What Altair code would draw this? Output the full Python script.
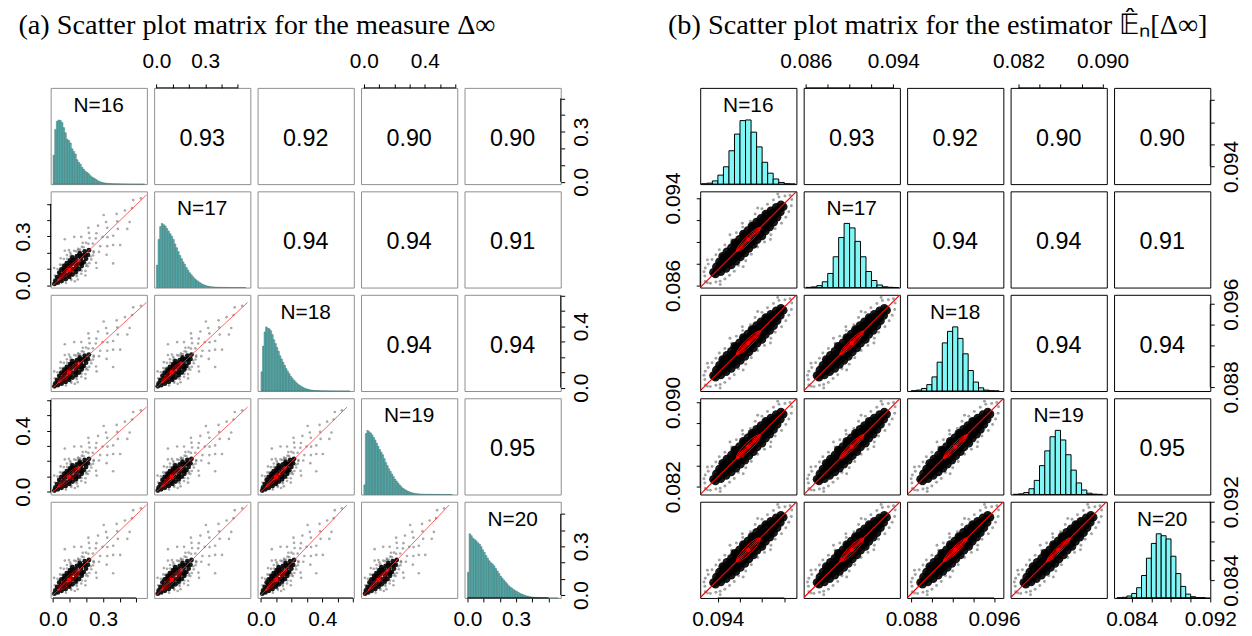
import math
import altair as alt
import pandas as pd

# ---------------- data ----------------
n_labels = ["N=16", "N=17", "N=18", "N=19", "N=20"]
corr_text = [["", "0.93", "0.92", "0.90", "0.90"],
             ["", "", "0.94", "0.94", "0.91"],
             ["", "", "", "0.94", "0.94"],
             ["", "", "", "", "0.95"],
             ["", "", "", "", ""]]

# ---- matrix (a): measure Delta_inf ----
a_lo = [-0.014, -0.014, -0.022, -0.018, -0.018]
a_hi = [0.563, 0.577, 0.605, 0.613, 0.575]
a_ticks = [[0.0, 0.1, 0.2, 0.3, 0.4, 0.5],
           [0.0, 0.1, 0.2, 0.3, 0.4, 0.5],
           [0.0, 0.1, 0.2, 0.3, 0.4, 0.5, 0.6],
           [0.0, 0.1, 0.2, 0.3, 0.4, 0.5, 0.6],
           [0.0, 0.1, 0.2, 0.3, 0.4, 0.5]]
a_labels = [[0.0, 0.3], [0.0, 0.3], [0.0, 0.4], [0.0, 0.4], [0.0, 0.3]]
a_mean = [0.097, 0.095, 0.100, 0.098, 0.094]
a_sd = [0.066, 0.064, 0.068, 0.067, 0.065]
a_hist_start = [0.0, 0.0, 0.0, 0.0, 0.0]
a_hist_width = 0.01
a_h16 = [45, 85, 98, 100, 99, 96, 88, 80, 70, 68, 64, 55, 51, 47, 38, 34, 31, 26, 23, 20, 18, 16, 13, 11,
         9.5, 8, 6, 4.5, 3.5, 2.5, 2, 1.5, 1.2, 1, 0.8, 0.7, 0.6, 0.5, 0.5, 0.4, 0.4, 0.3, 0.3, 0.3, 0.2,
         0.2, 0.2, 0.2, 0.1, 0.1, 0.1, 0.1, 0.1, 0.1, 0.1]
a_h17 = [35, 75, 95, 100, 98, 96, 92, 88, 84, 80, 75, 68, 62, 56, 50, 45, 40, 36, 31, 27, 23, 20, 17, 14,
         12, 10, 8, 6.5, 5, 4, 3, 2.4, 1.8, 1.4, 1.1, 0.9, 0.7, 0.6, 0.5, 0.4, 0.35, 0.3, 0.3, 0.25, 0.2,
         0.2, 0.15, 0.15, 0.1, 0.1, 0.1, 0.1, 0.1, 0.1, 0.1]
a_h18 = [30, 70, 92, 100, 98, 97, 94, 88, 80, 74, 68, 62, 55, 50, 45, 40, 35, 31, 27, 23, 20, 17, 14.5,
         12, 10, 8.5, 7, 5.5, 4.5, 3.5, 2.8, 2.2, 1.7, 1.3, 1, 0.8, 0.7, 0.6, 0.5, 0.4, 0.35, 0.3, 0.3,
         0.25, 0.2, 0.2, 0.15, 0.15, 0.1, 0.1, 0.1, 0.1, 0.1, 0.1, 0.1, 0.1, 0.1, 0.1]
a_h19 = [15, 95, 100, 98, 96, 93, 89, 85, 80, 75, 70, 66, 62, 56, 50, 45, 40, 36, 32, 28, 24, 21, 18,
         15, 12.5, 10, 8.5, 7, 5.5, 4.5, 3.5, 2.8, 2.2, 1.7, 1.3, 1, 0.8, 0.7, 0.6, 0.5, 0.4, 0.35, 0.3,
         0.3, 0.25, 0.2, 0.2, 0.15, 0.15, 0.1, 0.1, 0.1, 0.1, 0.1, 0.1, 0.1, 0.1, 0.1]
a_h20 = [40, 100, 97, 93, 91, 89, 86, 84, 80, 75, 71, 66, 62, 58, 55, 53, 50, 46, 42, 38, 34, 31, 28, 25,
         22, 19, 17, 15, 13, 11.5, 10, 8.5, 7, 6, 5, 4, 3.2, 2.5, 2, 1.5, 1.2, 1, 0.8, 0.6, 0.5, 0.4,
         0.3, 0.25, 0.2, 0.15, 0.1, 0.1, 0.1, 0.1, 0.1, 0.1]
# scatter cloud of (a), diagonal coordinate a / cross coordinate b, data units
a_core_a = [0.012, 0.032, 0.030, 0.055, 0.057, 0.053, 0.080, 0.082, 0.078, 0.081, 0.105, 0.103, 0.107,
            0.104, 0.130, 0.132, 0.128, 0.131, 0.155, 0.153, 0.157, 0.154, 0.180, 0.182, 0.178, 0.181,
            0.205, 0.203, 0.207, 0.204, 0.230, 0.232, 0.228, 0.255, 0.257, 0.253, 0.280, 0.282, 0.305,
            0.068, 0.092, 0.118, 0.142, 0.167, 0.192, 0.217, 0.243, 0.268, 0.117, 0.143, 0.168, 0.193]
a_core_b = [0.0, -0.009, 0.010, -0.018, 0.0, 0.018, -0.027, -0.009, 0.010, 0.028, -0.032, -0.011, 0.011,
            0.033, -0.036, -0.013, 0.010, 0.034, -0.038, -0.014, 0.012, 0.037, -0.040, -0.016, 0.010,
            0.036, -0.038, -0.013, 0.014, 0.039, -0.030, -0.004, 0.025, -0.025, 0.002, 0.026, -0.016,
            0.013, 0.0,
            -0.004, 0.002, -0.022, 0.024, -0.026, 0.026, -0.027, 0.014, -0.004, 0.023, -0.002, 0.024, 0.0]
a_fr_a = [0.05, 0.065, 0.09, 0.10, 0.12, 0.14, 0.16, 0.17, 0.19, 0.20, 0.215, 0.23, 0.24, 0.25, 0.265,
          0.275, 0.29, 0.30, 0.31, 0.32, 0.33, 0.34, 0.35, 0.36, 0.37, 0.385, 0.40, 0.41, 0.42, 0.44,
          0.45, 0.47, 0.48, 0.50, 0.52, 0.55, 0.58, 0.60, 0.63, 0.67, 0.71, 0.75, 0.20, 0.26, 0.30,
          0.36, 0.18, 0.40, 0.46, 0.33, 0.28, 0.22, 0.15, 0.13, 0.52, 0.43, 0.38, 0.56, 0.25, 0.35,
          0.08, 0.11, 0.125, 0.145, 0.175, 0.185, 0.21, 0.225, 0.245, 0.26, 0.285, 0.295, 0.315, 0.325,
          0.105, 0.135, 0.155, 0.2, 0.235, 0.27]
a_fr_b = [0.035, -0.045, 0.052, -0.055, 0.06, -0.062, 0.068, -0.07, 0.072, -0.075, 0.07, -0.065, 0.06,
          -0.058, 0.052, -0.05, 0.045, -0.04, 0.058, -0.025, 0.03, -0.05, 0.012, 0.05, -0.03, 0.022,
          -0.06, 0.042, 0.0, -0.022, 0.068, -0.04, 0.02, 0.05, -0.03, 0.005, 0.04, -0.05, 0.02, 0.0,
          0.03, 0.005, 0.10, -0.11, 0.12, -0.095, -0.095, 0.10, -0.11, 0.09, -0.085, 0.085, 0.085,
          -0.08, 0.09, -0.08, 0.075, -0.07, 0.15, -0.16, 0.07, -0.075, 0.05, -0.052, 0.056, -0.058,
          0.058, -0.055, 0.05, 0.045, -0.035, 0.035, -0.03, 0.045, -0.048, 0.047, -0.05, 0.052, -0.05,
          0.04]
a_line_x = [0.0, 0.56]
a_line_y = [0.0, 0.555]

# ---- matrix (b): estimator ----
b_lo = [0.0924, 0.0858, 0.0876, 0.08125, 0.0822]
b_hi = [0.1011, 0.0946, 0.0969, 0.0904, 0.0920]
b_ticks = [[0.094, 0.096, 0.098, 0.100],
           [0.086, 0.088, 0.090, 0.092, 0.094],
           [0.088, 0.090, 0.092, 0.094, 0.096],
           [0.082, 0.084, 0.086, 0.088, 0.090],
           [0.084, 0.086, 0.088, 0.090, 0.092]]
b_labels = [[0.094], [0.086, 0.094], [0.088, 0.096], [0.082, 0.090], [0.084, 0.092]]
b_mean = [0.09675, 0.0902, 0.09225, 0.0858, 0.0871]
b_sd = [0.00109, 0.00110, 0.00116, 0.00114, 0.00122]
b_hist_start = [0.0925, 0.0860, 0.0880, 0.0815, 0.0825]
b_hist_width = 0.0005
b_h16 = [0.5, 1.5, 5, 14, 27, 52, 78, 99, 100, 81, 58, 34, 17, 8, 2.6, 0.6, 0.2]
b_h17 = [0.3, 1, 3, 9, 22, 48, 78, 100, 93, 72, 48, 25, 11, 4, 1.2, 0.4, 0.1]
b_h18 = [0.4, 1.5, 4, 10, 22, 45, 75, 93, 100, 82, 58, 32, 14, 5, 1.5, 0.4, 0.1]
b_h19 = [0.3, 1, 3, 9, 22, 45, 68, 90, 100, 85, 62, 38, 18, 7, 2, 0.5, 0.2]
b_h20 = [0.3, 1, 3, 7, 16, 35, 62, 85, 100, 97, 92, 65, 38, 18, 6, 2, 0.5, 0.2]
# scatter cloud of (b), in standard units (diagonal a / cross b)
b_core_a = [-3.95, -3.97, -3.5, -3.52, -3.48, -3.0, -3.03, -2.97, -3.01, -2.5, -2.53, -2.47, -2.51,
            -2.49, -2.0, -2.02, -1.98, -2.01, -1.99, -1.5, -1.52, -1.48, -1.51, -1.49, -1.0, -1.02,
            -0.98, -1.01, -0.99, -1.0, -0.5, -0.48, -0.52, -0.49, -0.51, 0.0, 0.02, -0.02, 0.01, -0.01,
            0.02, 0.5, 0.52, 0.48, 0.51, 0.49, 1.0, 1.02, 0.98, 1.01, 0.99, 1.0, 1.5, 1.48, 1.52, 1.49,
            1.51, 2.0, 2.03, 1.98, 2.01, 1.99, 2.5, 2.47, 2.53, 2.49, 2.51, 3.0, 3.03, 2.97, 3.01, 3.5,
            3.46, 3.53, 3.97, 3.95]
b_core_b = [-0.10, 0.12, -0.28, 0.0, 0.27, -0.40, -0.13, 0.14, 0.38, -0.50, -0.20, 0.08, 0.34, 0.52,
            -0.55, -0.27, 0.0, 0.27, 0.53, -0.57, -0.30, -0.03, 0.24, 0.50, -0.60, -0.33, -0.07, 0.20,
            0.46, 0.60, -0.57, -0.30, -0.03, 0.24, 0.53, -0.60, -0.33, -0.07, 0.20, 0.46, 0.61, -0.54,
            -0.27, 0.0, 0.27, 0.55, -0.60, -0.35, -0.09, 0.17, 0.44, 0.58, -0.51, -0.24, 0.02, 0.29,
            0.55, -0.52, -0.26, 0.0, 0.26, 0.50, -0.47, -0.20, 0.06, 0.32, 0.47, -0.38, -0.12, 0.15,
            0.37, -0.26, 0.0, 0.26, -0.13, 0.12]
b_fr_a = [-5.0, -4.8, -4.7, -4.5, -4.4, -4.2, -4.1, -3.8, -3.7, -3.3, -3.2, -2.8, -2.7, -2.3, -2.1,
          -1.7, -1.4, -1.0, -0.7, -0.3, 0.1, 0.4, 0.8, 1.2, 1.6, 1.9, 2.2, 2.6, 2.9, 3.2, 3.5, 3.8,
          4.0, 4.3, 4.5, 4.7, 4.9, 5.05, -4.95, 0.6, -1.9, 2.4, -3.6, 4.4, -4.3, 1.3, -0.8]
b_fr_b = [0.05, -0.35, 0.4, 0.7, -0.6, 0.85, -0.8, 0.9, -0.95, 0.95, -1.0, 1.0, -1.05, 1.1, -0.95,
          1.05, -1.1, 0.95, -1.05, 1.1, -1.0, 1.05, -1.1, 0.95, -1.05, 1.1, -0.95, 1.0, -1.0, 0.95,
          -0.9, 0.85, -0.75, 0.7, -0.55, 0.4, -0.2, 0.15, -0.15, 1.3, -1.3, 1.3, 1.2, 0.95, -1.0,
          -1.3, 1.35]
b_line_a = [-5.6, 5.6]

# correlation ellipse outline (unit circle) and inner ellipse width ratio
circ_c = [1, 0.924, 0.707, 0.383, 0, -0.383, -0.707, -0.924, -1, -0.924, -0.707, -0.383, 0, 0.383, 0.707, 0.924, 1]
circ_s = [0, 0.383, 0.707, 0.924, 1, 0.924, 0.707, 0.383, 0, -0.383, -0.707, -0.924, -1, -0.924, -0.707, -0.383, 0]
ellipse_widths = [1.0, 0.45]

# ---------------- layout / style ----------------
W = 97
GAP = 7.3
MID_GAP = 139.7
SQ2 = math.sqrt(2)

MA = dict(lo=a_lo, hi=a_hi, ticks=a_ticks, labels=a_labels, fmt=".1f", mean=a_mean, sd=a_sd,
          hstart=a_hist_start, hw=a_hist_width, hists=[a_h16, a_h17, a_h18, a_h19, a_h20],
          border="#8f8f8f", hfill="#5ab4b4", hstroke="#2d5e5e", hsw=0.4,
          std=False, core=(a_core_a, a_core_b), fr=(a_fr_a, a_fr_b),
          core_size=24, core_op=0.9, fr_size=7, fr_op=0.5, line_col="#ff3b3b", line_w=0.8, ell_w=0.7,
          title="(a) Scatter plot matrix for the measure Δ∞")
MB = dict(lo=b_lo, hi=b_hi, ticks=b_ticks, labels=b_labels, fmt=".3f", mean=b_mean, sd=b_sd,
          hstart=b_hist_start, hw=b_hist_width, hists=[b_h16, b_h17, b_h18, b_h19, b_h20],
          border="#000000", hfill="#80f7f7", hstroke="#000000", hsw=1.0,
          std=True, core=(b_core_a, b_core_b), fr=(b_fr_a, b_fr_b),
          core_size=75, core_op=0.9, fr_size=9, fr_op=0.55, line_col="#ff0000", line_w=1.2, ell_w=1.0,
          title="(b) Scatter plot matrix for the estimator 𝔼̂ₙ[Δ∞]")


def rot(al, bl):
    u = [(a - b) / SQ2 for a, b in zip(al, bl)]
    v = [(a + b) / SQ2 for a, b in zip(al, bl)]
    return u, v


def axis_for(M, orient, k):
    cond = " || ".join(f"abs(datum.value - ({v})) < 1e-7" for v in M["labels"][k])
    expr = f"({cond}) ? format(datum.value, '{M['fmt']}') : ''"
    kw = dict(values=M["ticks"][k], labelExpr=expr, orient=orient, title=None, grid=False,
              domain=False, ticks=True, tickSize=4, tickColor="black", tickWidth=1,
              labelFont="Liberation Sans", labelFontSize=21, labelColor="black",
              labelOverlap=False, labelFlush=False, labelBound=False)
    if orient == "top":
        kw.update(labelPadding=13, labelAngle=0, labelAlign="center", labelBaseline="bottom")
    elif orient == "bottom":
        kw.update(labelPadding=6.5, labelAngle=0, labelAlign="center", labelBaseline="top")
    elif orient == "left":
        kw.update(labelPadding=13, labelAngle=270, labelAlign="center", labelBaseline="bottom")
    else:
        kw.update(labelPadding=6, labelAngle=270, labelAlign="center", labelBaseline="top")
    return alt.Axis(**kw)


def panel(M, r, c):
    xlo, xhi = M["lo"][c], M["hi"][c]
    ylo, yhi = M["lo"][r], M["hi"][r]
    xax, yax = None, None
    rules = []
    if r == 0 and c % 2 == 1:
        xax = axis_for(M, "top", c)
        rules.append(("h", M["ticks"][c][0], M["ticks"][c][-1], yhi))
    if r == 4 and c % 2 == 0:
        xax = axis_for(M, "bottom", c)
        rules.append(("h", M["ticks"][c][0], M["ticks"][c][-1], ylo))
    if c == 0 and r % 2 == 1:
        yax = axis_for(M, "left", r)
        rules.append(("v", M["ticks"][r][0], M["ticks"][r][-1], xlo))
    if c == 4 and r % 2 == 0:
        yax = axis_for(M, "right", r)
        rules.append(("v", M["ticks"][r][0], M["ticks"][r][-1], xhi))

    def X(f="x"):
        return alt.X(f"{f}:Q", scale=alt.Scale(domain=[xlo, xhi], nice=False, zero=False), axis=xax)

    def Y(f="y", ax=True):
        return alt.Y(f"{f}:Q", scale=alt.Scale(domain=[ylo, yhi], nice=False, zero=False),
                     axis=yax if ax else None)

    diag = (r == c)
    layers = []
    if diag:
        h = M["hists"][c]
        x0 = [M["hstart"][c] + i * M["hw"] for i in range(len(h))]
        df = pd.DataFrame({"x": x0, "x2": [v + M["hw"] for v in x0], "h": h, "b": [0] * len(h)})
        hy = alt.Y("h:Q", scale=alt.Scale(domain=[0, 150], nice=False, zero=True), axis=None)
        layers.append(alt.Chart(df).mark_rect(fill=M["hfill"], stroke=M["hstroke"], strokeWidth=M["hsw"])
                      .encode(x=X("x"), x2="x2:Q", y=hy, y2="b:Q"))
        tdf = pd.DataFrame({"x": [(xlo + xhi) / 2], "h": [122], "t": [n_labels[c]]})
        layers.append(alt.Chart(tdf).mark_text(font="Liberation Sans", fontSize=21, color="black",
                                                baseline="middle", align="center")
                      .encode(x=X("x"), y=alt.Y("h:Q", scale=alt.Scale(domain=[0, 150], nice=False), axis=None),
                              text="t:N"))
    elif r < c:
        tdf = pd.DataFrame({"x": [(xlo + xhi) / 2], "y": [(ylo + yhi) / 2], "t": [corr_text[r][c]]})
        layers.append(alt.Chart(tdf).mark_text(font="Liberation Sans", fontSize=23.5, color="black",
                                                baseline="middle", align="center", dy=3)
                      .encode(x=X(), y=Y(), text="t:N"))
    else:
        rho = float(corr_text[c][r])
        if M["std"]:
            fu, fv = rot(*M["fr"])
            cu, cv = rot(*M["core"])
            fx = [M["mean"][c] + M["sd"][c] * u for u in fu]
            fy = [M["mean"][r] + M["sd"][r] * v for v in fv]
            cx = [M["mean"][c] + M["sd"][c] * u for u in cu]
            cy = [M["mean"][r] + M["sd"][r] * v for v in cv]
            lu, lv = rot(b_line_a, [0, 0])
            lx = [M["mean"][c] + M["sd"][c] * u for u in lu]
            ly = [M["mean"][r] + M["sd"][r] * v for v in lv]
        else:
            fx, fy = rot(*M["fr"])
            cx, cy = rot(*M["core"])
            lx, ly = a_line_x, a_line_y
        layers.append(alt.Chart(pd.DataFrame({"x": fx, "y": fy}))
                      .mark_circle(size=M["fr_size"], color="#555555", opacity=M["fr_op"], clip=True)
                      .encode(x=X(), y=Y()))
        layers.append(alt.Chart(pd.DataFrame({"x": cx, "y": cy}))
                      .mark_circle(size=M["core_size"], color="black", opacity=M["core_op"], clip=True)
                      .encode(x=X(), y=Y()))
        for k, wr in enumerate(ellipse_widths):
            ea = [cc * math.sqrt(1 + rho) for cc in circ_c]
            eb = [ss * math.sqrt(1 - rho) * wr for ss in circ_s]
            eu, ev = rot(ea, eb)
            edf = pd.DataFrame({"x": [M["mean"][c] + M["sd"][c] * u for u in eu],
                                "y": [M["mean"][r] + M["sd"][r] * v for v in ev],
                                "o": list(range(len(eu)))})
            layers.append(alt.Chart(edf).mark_line(color="red", strokeWidth=M["ell_w"], clip=True)
                          .encode(x=X(), y=Y(), order="o:Q"))
        layers.append(alt.Chart(pd.DataFrame({"x": lx, "y": ly}))
                      .mark_line(color=M["line_col"], strokeWidth=M["line_w"], clip=True)
                      .encode(x=X(), y=Y()))
        layers.append(alt.Chart(pd.DataFrame({"x": [M["mean"][c]], "y": [M["mean"][r]]}))
                      .mark_circle(size=20, color="red", opacity=1, clip=True)
                      .encode(x=X(), y=Y()))

    for kind, t0, t1, pos in rules:
        if kind == "h":
            rdf = pd.DataFrame({"x": [t0], "x2": [t1], "y": [pos]})
            layers.append(alt.Chart(rdf).mark_rule(color="black", strokeWidth=1)
                          .encode(x=X("x"), x2="x2:Q", y=Y("y", ax=not diag)))
        else:
            rdf = pd.DataFrame({"y": [t0], "y2": [t1], "x": [pos]})
            layers.append(alt.Chart(rdf).mark_rule(color="black", strokeWidth=1)
                          .encode(x=X("x"), y=Y("y", ax=True), y2="y2:Q"))

    props = dict(width=W, height=W, view=alt.ViewBackground(stroke=M["border"], strokeWidth=1))
    if r == 0 and c == 0:
        props["title"] = alt.TitleParams(M["title"], anchor="start", frame="group", baseline="alphabetic",
                                         offset=25.6, dx=-32.5, font="Liberation Serif",
                                         fontSize=28.5, fontWeight="normal", color="black")
    ch = alt.layer(*layers).properties(**props)
    if diag:
        ch = ch.resolve_scale(y="independent")
    return ch


def spacer():
    return (alt.Chart(pd.DataFrame({"x": [0.0], "y": [0.0]}))
            .mark_point(opacity=0)
            .encode(x=alt.X("x:Q", axis=None), y=alt.Y("y:Q", axis=None))
            .properties(width=MID_GAP - 2 * GAP, height=W,
                        view=alt.ViewBackground(strokeWidth=0, strokeOpacity=0, fillOpacity=0)))


cells = []
for r in range(5):
    for c in range(5):
        cells.append(panel(MA, r, c))
    cells.append(spacer())
    for c in range(5):
        cells.append(panel(MB, r, c))

chart = alt.concat(*cells, columns=11, spacing=GAP, bounds="flush", align="each").properties(
    padding={"left": 4, "top": 0, "right": 2, "bottom": 0}
).configure_view(strokeWidth=1)

chart.save("out.html", embed_options={"renderer": "svg", "actions": False})
